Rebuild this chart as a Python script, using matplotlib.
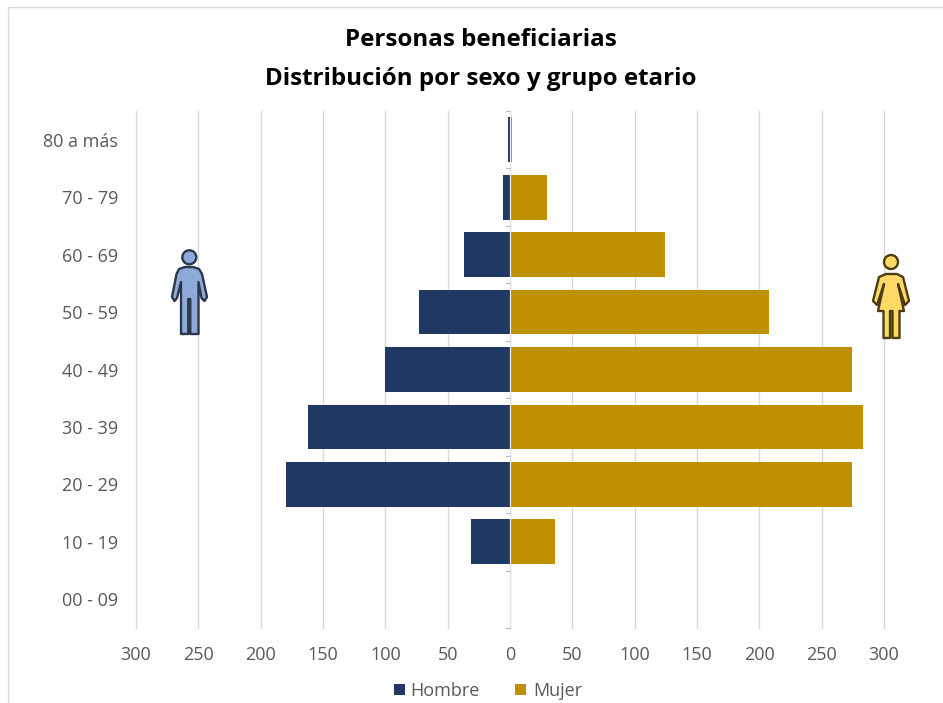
import matplotlib
matplotlib.use("Agg")
import numpy as np
import matplotlib.pyplot as plt
from matplotlib.patches import Circle, Polygon, Rectangle

plt.rcParams['font.family'] = ['Open Sans', 'DejaVu Sans']

W, H = 943, 703

grupos = ['00 - 09', '10 - 19', '20 - 29', '30 - 39', '40 - 49', '50 - 59', '60 - 69', '70 - 79', '80 a más']
hombre = [0, 31, 180, 162, 100, 73, 37, 6, 2]
mujer = [0, 36, 274, 283, 274, 208, 124, 30, 2]
ticks = [-300, -250, -200, -150, -100, -50, 0, 50, 100, 150, 200, 250, 300]

AZUL = '#1f3864'
ORO = '#bf9000'
GRIS = '#595959'


def px_axes(fig, left, top, right, bottom):
    return fig.add_axes([left / W, 1 - bottom / H, (right - left) / W, (bottom - top) / H])


fig = plt.figure(figsize=(W / 100, H / 100), dpi=100, facecolor='white')

ax = px_axes(fig, 136, 111, 884, 628)
y = np.arange(len(grupos))
ax.barh(y, [-v for v in hombre], height=0.78, color=AZUL, zorder=3, label='Hombre')
ax.barh(y, mujer, height=0.78, color=ORO, zorder=3, label='Mujer')
ax.set_xlim(-300, 300)
ax.set_ylim(-0.5, len(grupos) - 0.5)
ax.set_xticks(ticks)
ax.set_xticklabels([str(abs(t)) for t in ticks], fontsize=13, color=GRIS)
ax.tick_params(axis='x', length=0, pad=13)
ax.set_yticks(y)
ax.set_yticklabels(grupos, fontsize=13, color=GRIS)
ax.tick_params(axis='y', length=0, pad=13)
ax.grid(axis='x', color='#d9d9d9', lw=1, zorder=0)
for g in ax.get_xgridlines():
    g.set_clip_on(False)
for s in ax.spines.values():
    s.set_visible(False)

# linea central con marcas entre grupos
ax.axvline(0, color='#e8e8e8', lw=0.9, zorder=4)
for b in np.arange(-0.5, len(grupos)):
    ax.plot([-3, 0], [b, b], color='#bfbfbf', lw=0.8, zorder=4, clip_on=False)

# capa en pixeles para marco, iconos y titulo
over = fig.add_axes([0, 0, 1, 1], facecolor='none')
over.set_xlim(0, W)
over.set_ylim(H, 0)
over.axis('off')
over.plot([8, 8, W], [H, 7, 7], color='#d9d9d9', lw=1)

# hombre
over.add_patch(Circle((189.3, 257.3), 7, fc='#8eaadb', ec='#2b3648', lw=1.7, zorder=5))
over.add_patch(Polygon([(185, 267), (193, 267), (199, 269), (202, 274), (207, 297), (204.5, 301),
                        (201.5, 298), (198.5, 282), (198.5, 334), (190.3, 334), (190.3, 299),
                        (188.3, 299), (188.3, 334), (181, 334), (181, 282), (177, 298),
                        (174.5, 301), (172, 297), (176.5, 274), (179, 269)],
                       closed=True, fc='#8eaadb', ec='#2b3648', lw=1.7, joinstyle='round', zorder=5))

# mujer
over.add_patch(Circle((891, 262), 7, fc='#ffd966', ec='#4d3b12', lw=1.7, zorder=5))
over.add_patch(Polygon([(886, 274), (897, 274), (903, 277), (909, 301), (905, 305), (898, 284),
                        (904, 311), (899.5, 311), (899.5, 338), (892.5, 338), (892.5, 311),
                        (890, 311), (890, 338), (883.5, 338), (883.5, 311), (878, 311),
                        (884, 284), (877, 305), (873, 301), (879, 277)],
                       closed=True, fc='#ffd966', ec='#4d3b12', lw=1.7, joinstyle='round', zorder=5))

over.text(481, 40, 'Personas beneficiarias', ha='center', va='center', fontsize=17.4,
          fontweight='bold', color='black')
over.text(481, 79, 'Distribución por sexo y grupo etario', ha='center', va='center', fontsize=17.4,
          fontweight='bold', color='black')

# leyenda
over.add_patch(Rectangle((394, 684), 11, 11, fc=AZUL, ec='none'))
over.text(410, 691, 'Hombre', va='center', fontsize=13, color=GRIS)
over.add_patch(Rectangle((515, 684), 11, 11, fc=ORO, ec='none'))
over.text(533, 691, 'Mujer', va='center', fontsize=13, color=GRIS)

fig.savefig('out.png', dpi=100)
